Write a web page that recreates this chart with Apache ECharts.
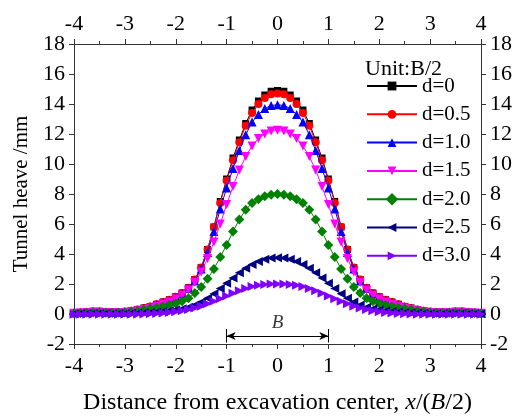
<!DOCTYPE html>
<html>
<head>
<meta charset="utf-8">
<script src="https://cdn.jsdelivr.net/npm/echarts@6/dist/echarts.min.js"></script>
<style>html,body{margin:0;padding:0;background:#fff}#c{width:518px;height:416px}</style>
</head>
<body>
<div id="c"></div>
<script>
// x positions: -4 .. 4, step 0.125 (65 points)
const xStart = -4, xStep = 0.125;
const seriesNames = ['d=0', 'd=0.5', 'd=1.0', 'd=1.5', 'd=2.0', 'd=2.5', 'd=3.0'];
const d00 = [0.06,0.1,0.15,0.18,0.18,0.15,0.13,0.13,0.16,0.22,0.3,0.4,0.5,0.65,0.8,0.95,1.15,1.4,1.75,2.3,3.1,4.3,5.8,7.5,9.0,10.4,11.6,12.7,13.6,14.2,14.6,14.85,
  14.9,
  14.85,14.6,14.2,13.6,12.7,11.6,10.4,9.0,7.5,5.8,4.3,3.1,2.3,1.75,1.4,1.15,0.95,0.8,0.65,0.5,0.4,0.3,0.22,0.16,0.13,0.13,0.15,0.18,0.18,0.15,0.1,0.06];
const d05 = [0.06,0.1,0.14,0.17,0.16,0.14,0.12,0.13,0.16,0.22,0.3,0.4,0.5,0.65,0.8,0.95,1.15,1.4,1.75,2.3,3.1,4.3,5.8,7.4,8.9,10.25,11.45,12.55,13.4,14.0,14.4,14.65,
  14.7,
  14.65,14.4,14.0,13.4,12.55,11.45,10.25,8.9,7.4,5.8,4.3,3.1,2.3,1.75,1.4,1.15,0.95,0.8,0.65,0.5,0.4,0.3,0.22,0.16,0.13,0.12,0.14,0.16,0.17,0.14,0.1,0.06];
const d10 = [0.06,0.1,0.13,0.16,0.16,0.14,0.12,0.12,0.15,0.2,0.28,0.38,0.48,0.62,0.77,0.92,1.1,1.35,1.7,2.2,3.0,4.1,5.5,7.0,8.4,9.7,10.9,11.95,12.8,13.3,13.7,13.9,
  13.95,
  13.9,13.7,13.3,12.8,11.95,10.9,9.7,8.4,7.0,5.5,4.1,3.0,2.2,1.7,1.35,1.1,0.92,0.77,0.62,0.48,0.38,0.28,0.2,0.15,0.12,0.12,0.14,0.16,0.16,0.13,0.1,0.06];
const d15 = [0.05,0.07,0.1,0.12,0.12,0.1,0.08,0.08,0.1,0.15,0.22,0.3,0.4,0.5,0.65,0.8,1.0,1.25,1.6,2.1,2.8,3.7,4.8,6.0,7.3,8.5,9.6,10.5,11.2,11.7,12.0,12.2,
  12.25,
  12.2,12.0,11.7,11.2,10.5,9.6,8.5,7.3,6.0,4.8,3.7,2.8,2.1,1.6,1.25,1.0,0.8,0.65,0.5,0.4,0.3,0.22,0.15,0.1,0.08,0.08,0.1,0.12,0.12,0.1,0.07,0.05];
const d20 = [0.04,0.06,0.08,0.09,0.09,0.08,0.07,0.08,0.1,0.15,0.2,0.28,0.35,0.42,0.5,0.6,0.7,0.85,1.05,1.4,1.8,2.35,3.0,3.8,4.6,5.5,6.3,6.95,7.4,7.65,7.85,7.95,
  8.0,
  7.95,7.85,7.65,7.4,6.95,6.3,5.5,4.6,3.8,3.0,2.35,1.8,1.4,1.05,0.85,0.7,0.6,0.5,0.42,0.35,0.28,0.2,0.15,0.1,0.08,0.07,0.08,0.09,0.09,0.08,0.06,0.04];
const d25 = [0.02,0.03,0.04,0.05,0.05,0.05,0.04,0.04,0.04,0.05,0.06,0.08,0.1,0.13,0.17,0.22,0.28,0.35,0.45,0.6,0.8,1.05,1.35,1.7,2.05,2.4,2.75,3.05,3.3,3.5,3.65,3.73,
  3.75,
  3.73,3.65,3.5,3.3,3.05,2.75,2.4,2.05,1.7,1.35,1.05,0.8,0.6,0.45,0.35,0.28,0.22,0.17,0.13,0.1,0.08,0.06,0.05,0.04,0.04,0.04,0.05,0.05,0.05,0.04,0.03,0.02];
const d30 = [-0.02,-0.02,-0.02,-0.02,-0.02,-0.02,-0.02,-0.02,-0.02,-0.02,-0.01,0,0.01,0.03,0.06,0.1,0.15,0.22,0.3,0.4,0.52,0.68,0.85,1.02,1.2,1.38,1.55,1.7,1.83,1.92,1.97,2.0,
  2.0,
  2.0,1.97,1.92,1.83,1.7,1.55,1.38,1.2,1.02,0.85,0.68,0.52,0.4,0.3,0.22,0.15,0.1,0.06,0.03,0.01,0,-0.01,-0.02,-0.02,-0.02,-0.02,-0.02,-0.02,-0.02,-0.02,-0.02,-0.02];
const seriesValues = [d00, d05, d10, d15, d20, d25, d30];
const xTicks = [-4, -3, -2, -1, 0, 1, 2, 3, 4];
const yTicks = [-2, 0, 2, 4, 6, 8, 10, 12, 14, 16, 18];
// "B" excavation width annotation
const bracketX = [-1, 1];
const bracketArrowY = -1.47;
const bracketTickY = [-1.0, -1.9];
const bracketLabelPos = [0, -0.62];

const colors = ['#000000', '#ff0000', '#0000ff', '#ff00ff', '#008000', '#000080', '#8000ff'];
const symbols = ['rect', 'circle', 'triangle', 'triangle', 'rect', 'triangle', 'triangle'];
const rotates = [0, 0, 0, 180, 45, 90, -90];
const sizes = [7, 8, 9, 9, 7, 9, 9];

const FONT = '"Liberation Serif", "Times New Roman", serif';
const axisLineStyle = { color: '#333', width: 1 };

const series = seriesValues.map((vals, i) => ({
  name: seriesNames[i],
  type: 'line',
  xAxisIndex: 0, yAxisIndex: 0,
  data: vals.map((v, k) => [xStart + k * xStep, v]),
  symbol: symbols[i],
  symbolRotate: rotates[i],
  symbolSize: sizes[i],
  showSymbol: true,
  showAllSymbol: true,
  itemStyle: { color: colors[i] },
  lineStyle: { color: colors[i], width: 1 },
  z: 2 + i
}));

series.push({
  name: 'annot',
  type: 'scatter',
  xAxisIndex: 0, yAxisIndex: 0,
  data: [bracketLabelPos],
  symbolSize: 0,
  label: { show: true, position: 'inside', formatter: 'B', fontFamily: FONT, fontStyle: 'italic', fontSize: 19, color: '#000' },
  markLine: {
    silent: true,
    animation: false,
    label: { show: false },
    lineStyle: { color: '#000', width: 1, type: 'solid' },
    data: [
      [{ coord: [bracketX[0], bracketArrowY], symbol: 'arrow', symbolSize: [6, 9] }, { coord: [bracketX[1], bracketArrowY], symbol: 'arrow', symbolSize: [6, 9] }],
      [{ coord: [bracketX[0], bracketTickY[0]], symbol: 'none' }, { coord: [bracketX[0], bracketTickY[1]], symbol: 'none' }],
      [{ coord: [bracketX[1], bracketTickY[0]], symbol: 'none' }, { coord: [bracketX[1], bracketTickY[1]], symbol: 'none' }]
    ]
  }
});

function xAxisDef(pos, withName) {
  return {
    type: 'value', position: pos, min: xTicks[0], max: xTicks[xTicks.length - 1], interval: 1,
    axisLine: { show: true, onZero: false, lineStyle: axisLineStyle },
    axisTick: { show: true, inside: false, length: 5, lineStyle: axisLineStyle },
    minorTick: { show: true, splitNumber: 2, length: 3, lineStyle: axisLineStyle },
    splitLine: { show: false },
    axisLabel: { color: '#000', fontFamily: FONT, fontSize: 22, margin: withName ? 11 : 9 },
    name: withName ? '{n|Distance from excavation center, }{i|x}{n|/(}{i|B}{n|/2)}' : '',
    nameLocation: 'middle', nameGap: 47,
    nameTextStyle: withName ? { rich: { n: { fontFamily: FONT, fontSize: 24, color: '#000' }, i: { fontFamily: FONT, fontSize: 24, fontStyle: 'italic', color: '#000' } } } : {}
  };
}
function yAxisDef(pos, withName) {
  return {
    type: 'value', position: pos, min: yTicks[0], max: yTicks[yTicks.length - 1], interval: 2,
    axisLine: { show: true, onZero: false, lineStyle: axisLineStyle },
    axisTick: { show: true, inside: false, length: 5, lineStyle: axisLineStyle },
    splitLine: { show: false },
    axisLabel: { color: '#000', fontFamily: FONT, fontSize: 22, margin: 9 },
    name: withName ? 'Tunnel heave /mm' : '',
    nameLocation: 'middle', nameGap: 41, nameRotate: 90,
    nameTextStyle: { fontFamily: FONT, fontSize: 21, color: '#000' }
  };
}

const chart = echarts.init(document.getElementById('c'), null, { renderer: 'canvas' });
chart.setOption({
  animation: false,
  backgroundColor: '#fff',
  grid: { left: 74, right: 37, top: 44, bottom: 72, containLabel: false, outerBoundsMode: 'none' },
  title: { text: 'Unit:B/2', left: 360, top: 53, textStyle: { fontFamily: FONT, fontSize: 22, fontWeight: 'normal', color: '#000' } },
  legend: {
    data: seriesNames,
    orient: 'vertical', left: 361, top: 70,
    itemWidth: 50, itemHeight: 11, itemGap: 6.3,
    textStyle: { fontFamily: FONT, fontSize: 21, color: '#000', lineHeight: 22 },
    selectedMode: false
  },
  xAxis: [xAxisDef('bottom', true), xAxisDef('top', false)],
  yAxis: [yAxisDef('left', true), yAxisDef('right', false)],
  series: series
});
</script>
</body>
</html>
